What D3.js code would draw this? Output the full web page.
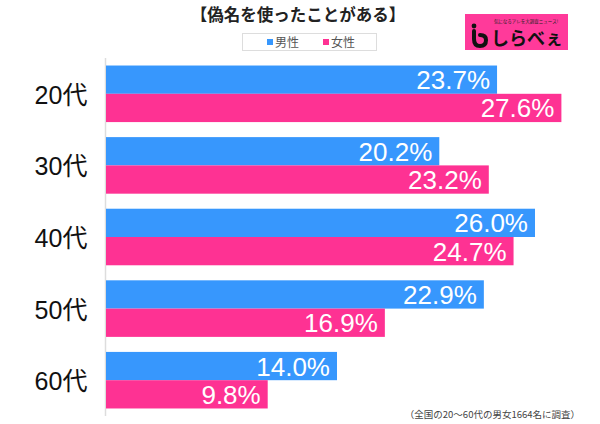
<!DOCTYPE html>
<html><head><meta charset="utf-8">
<script src="https://cdn.jsdelivr.net/npm/d3@7/dist/d3.min.js"></script>
<style>body{margin:0;background:#fff}svg{display:block;font-family:"Noto Sans CJK JP","Noto Sans",sans-serif}</style>
</head><body><svg id="c" width="600" height="424"></svg>
<script>
const categories = ["20代","30代","40代","50代","60代"];
const seriesNames = ["男性","女性"];
const male = [23.7,20.2,26.0,22.9,14.0];
const female = [27.6,23.2,24.7,16.9,9.8];
const colors = ["#3797fd","#fe3293"];

const svg = d3.select("#c");
const x = d3.scaleLinear().domain([0,10]).range([106,271]);
const y = d3.scaleBand().domain(categories).range([58,416]).paddingInner(0.21).paddingOuter(0.105);
const ys = d3.scaleBand().domain(seriesNames).range([0,y.bandwidth()]);

svg.append("text").attr("x",298).attr("y",21).attr("text-anchor","middle")
  .attr("font-size",16.5).attr("font-weight","bold").attr("fill","#222").text("【偽名を使ったことがある】");

// legend
svg.append("rect").attr("x",242.5).attr("y",33.5).attr("width",134).attr("height",17)
  .attr("fill","#fff").attr("stroke","#ddd");
const lg = [[267,"男性"],[323,"女性"]];
lg.forEach((d,i)=>{
  svg.append("rect").attr("x",d[0]).attr("y",39).attr("width",6).attr("height",6).attr("fill",colors[i]);
  svg.append("text").attr("x",d[0]+8).attr("y",47).attr("font-size",12).attr("fill","#555").text(d[1]);
});

// logo
const lgG = svg.append("g");
lgG.append("rect").attr("x",465).attr("y",14).attr("width",103).attr("height",36).attr("fill","#ff3a9a");
lgG.append("text").attr("x",526).attr("y",23).attr("text-anchor","middle").attr("font-size",4.5).attr("fill","#222").text("気になるアレを大調査ニュース!");
lgG.append("circle").attr("cx",474).attr("cy",26).attr("r",2.4).attr("fill","#111");
lgG.append("path").attr("d","M474 31 L474 39 Q474 46 480 46 Q486 46 486 40 Q486 35 480 35").attr("fill","none").attr("stroke","#111").attr("stroke-width",4).attr("stroke-linecap","round");
lgG.append("text").attr("x",491).attr("y",45).attr("font-size",18).attr("font-weight","bold").attr("fill","#111").text("しらべぇ");

// axis line
svg.append("line").attr("x1",105.5).attr("x2",105.5).attr("y1",58).attr("y2",416).attr("stroke","#ddd").attr("stroke-width",1.5);

const data = [male,female];
categories.forEach((c,i)=>{
  seriesNames.forEach((s,j)=>{
    const v = data[j][i];
    const yy = y(c)+ys(s);
    svg.append("rect").attr("x",x(0)).attr("y",yy).attr("width",x(v)-x(0)).attr("height",ys.bandwidth()).attr("fill",colors[j]);
    svg.append("text").attr("x",x(v)-7).attr("y",yy+ys.bandwidth()/2+9.5).attr("text-anchor","end")
      .attr("font-size",26).attr("fill","#fff").attr("font-family","'Liberation Sans',Arial,sans-serif").text(v.toFixed(1)+"%");
  });
  svg.append("text").attr("x",61).attr("y",y(c)+y.bandwidth()/2+10).attr("text-anchor","middle")
    .attr("font-size",25).attr("fill","#111").attr("font-family","'Liberation Sans','Noto Sans CJK JP',sans-serif").text(c);
});

svg.append("text").attr("x",580).attr("y",418).attr("text-anchor","end").attr("font-size",9.5).attr("fill","#444")
  .text("（全国の20～60代の男女1664名に調査）");
</script></body></html>
